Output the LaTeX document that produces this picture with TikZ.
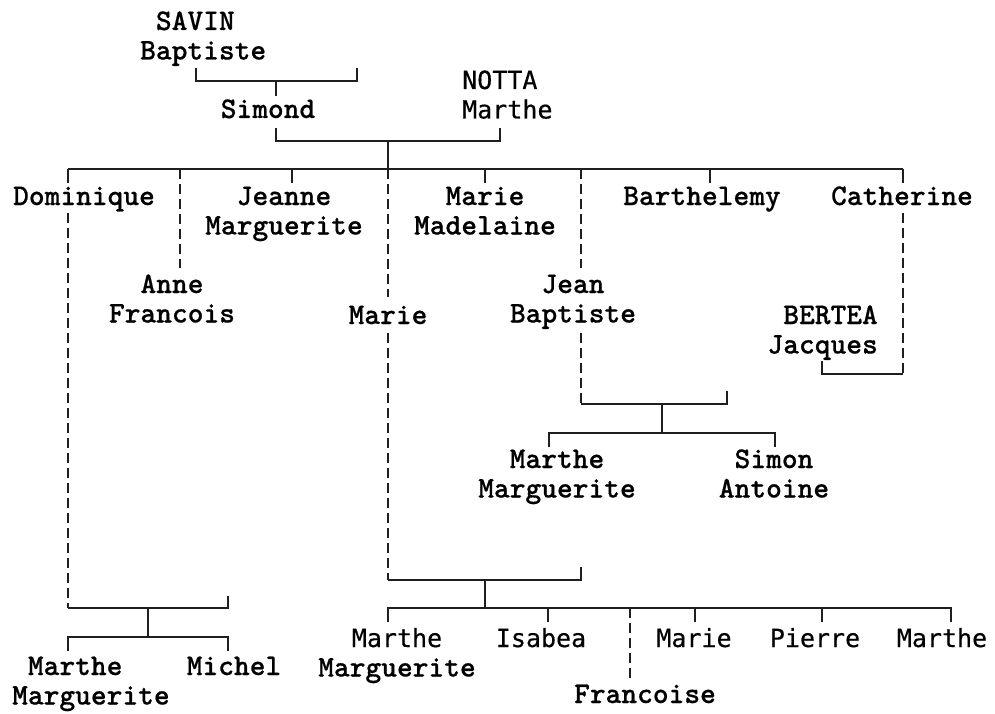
\documentclass[tikz,border=0pt]{standalone}
\usepackage{fontspec}
\newfontfamily\smono{lmmonolt10-bold.otf}[FakeBold=0.5]
\newfontfamily\asans{DejaVu Sans Mono}[FakeBold=0.4]
\newcommand\sansf{\asans\fontsize{25}{29.5}\selectfont}
\newcommand\twoline[3][c]{\begin{tabular}[t]{@{}#1@{}}#2\\#3\end{tabular}}
\tikzset{
  S/.style={font=\smono\fontsize{30}{29.5}\selectfont, inner sep=0pt, anchor=base, text=black},
  A/.style={font=\sansf, inner sep=0pt, anchor=base, text=black},
  ln/.style={line width=1.9pt, black!88, line cap=butt},
  dl/.style={ln, dash pattern=on 10pt off 5pt},
}
\begin{document}
\begin{tikzpicture}[x=1pt,y=-1pt]
\useasboundingbox[fill=white] (0,0) rectangle (995,714);
% ---------- nodes ----------
\node[S, anchor=base west] (savin) at (140,30) {\twoline[l]{\phantom{M}SAVIN}{Baptiste}};
\node[S] (simond) at (268,118) {Simond};
\node[A, anchor=base west] (notta) at (462,89) {\twoline[l]{NOTTA}{Marthe}};
\node[S] (dominique) at (84,205) {Dominique};
\node[S] (annef) at (172,293) {\twoline{Anne}{Francois}};
\node[S] (jeanne) at (284,205) {\twoline{Jeanne}{Marguerite}};
\node[S] (marieA) at (388,324) {Marie};
\node[S] (mariem) at (485,205) {\twoline{Marie}{Madelaine}};
\node[S] (jeanb) at (573,293) {\twoline{Jean}{Baptiste}};
\node[S] (barth) at (702,205) {Barthelemy};
\node[S] (cath) at (902,205) {Catherine};
\node[S, anchor=base east] (bertea) at (878,324) {\twoline[r]{BERTEA}{Jacques}};
\node[S] (mmA) at (557,468) {\twoline{Marthe}{Marguerite}};
\node[S] (simon) at (774,468) {\twoline{Simon}{Antoine}};
\node[S, anchor=base west] (mmB) at (12,675) {\twoline[l]{\phantom{M}Marthe}{Marguerite}};
\node[S] (michel) at (234,675) {Michel};
\node[S] (mmC) at (397,647) {\twoline{\sansf Marthe}{Marguerite}};
\node[A] (isabea) at (541,647) {Isabea};
\node[S] (francoise) at (645,703) {Francoise};
\node[A] (marieB) at (694,647) {Marie};
\node[A] (pierre) at (815,647) {Pierre};
\node[A] (marthe) at (942,647) {Marthe};
% ---------- coordinates ----------
\coordinate (savinL) at (196,68);
\coordinate (savinR) at (357,68);
\coordinate (u1) at (276,81);
\coordinate (simondT) at (276,96);
\coordinate (simondB) at (276,128);
\coordinate (nottaB) at (500,128);
\coordinate (u2) at (388,141);
\coordinate (sib) at (388,169);
\coordinate (barL) at (68,169);
\coordinate (barR) at (903,169);
% ---------- connectors ----------
\draw[ln] (savinL) |- (u1) -| (savinR);
\draw[ln] (u1) -- (simondT);
\draw[ln] (simondB) |- (u2) -| (nottaB);
\draw[ln] (u2) -- (sib);
\draw[ln] (barL) -- (barR);
\foreach \x in {68,292,485,710,903} \draw[ln] (\x,169) -- (\x,183);
% dashed descents
\draw[dl] (68,213) -- (68,608);
\draw[dl] (180,169) -- (180,268);
\draw[dl] (388,169) -- (388,297);
\draw[dl] (388,333) -- (388,580);
\draw[dl] (581,169) -- (581,268);
\draw[dl] (581,333) -- (581,404);
\draw[dl] (903,213) -- (903,374);
\draw[dl] (630,608) -- (630,680);
% Dominique union
\draw[ln] (68,608) -- (228,608) -- (228,596);
\draw[ln] (148,608) -- (148,637);
\draw[ln] (68,651) |- (148,637) -| (228,651);
% Marie union
\draw[ln] (388,580) -- (581,580) -- (581,567);
\draw[ln] (485,580) -- (485,608);
\draw[ln] (388,622) |- (485,608) -| (951,622);
\foreach \x in {548,695,822} \draw[ln] (\x,608) -- (\x,622);
% Jean Baptiste union
\draw[ln] (581,404) -- (727,404) -- (727,391);
\draw[ln] (662,404) -- (662,433);
\draw[ln] (549,447) |- (662,433) -| (775,447);
% Catherine union
\draw[ln] (903,374) -- (822,374) -- (822,361);
\end{tikzpicture}
\end{document}
